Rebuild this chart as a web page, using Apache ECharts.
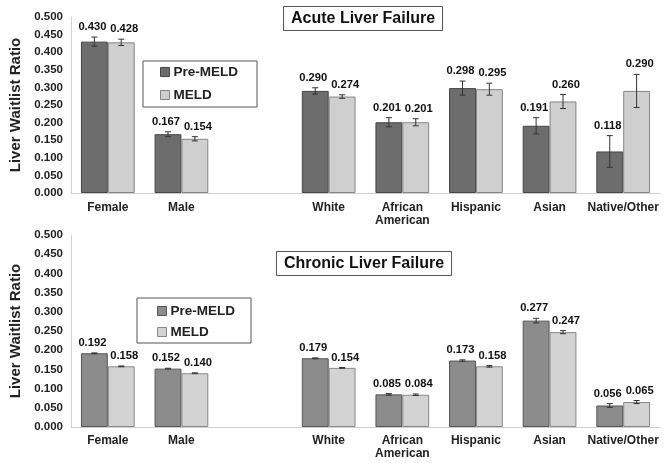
<!DOCTYPE html>
<html>
<head>
<meta charset="utf-8">
<script src="https://cdn.jsdelivr.net/npm/echarts@6/dist/echarts.min.js"></script>
<style>
html,body{margin:0;padding:0;background:#fff;}
#chart{width:669px;height:463px;}
</style>
</head>
<body>
<div id="chart"></div>
<script>
// ---- data ----
var categories = ['Female', 'Male', '', 'White', 'African\nAmerican', 'Hispanic', 'Asian', 'Native/Other'];
var seriesNames = ['Pre-MELD', 'MELD'];
var acutePre      = [0.430, 0.167, null, 0.290, 0.201, 0.298, 0.191, 0.118];
var acutePreErr   = [0.013, 0.007, null, 0.009, 0.013, 0.020, 0.023, 0.045];
var acuteMeld     = [0.428, 0.154, null, 0.274, 0.201, 0.295, 0.260, 0.290];
var acuteMeldErr  = [0.009, 0.006, null, 0.005, 0.010, 0.017, 0.020, 0.047];
var chronicPre     = [0.192, 0.152, null, 0.179, 0.085, 0.173, 0.277, 0.056];
var chronicPreErr  = [0.001, 0.001, null, 0.001, 0.002, 0.002, 0.006, 0.005];
var chronicMeld    = [0.158, 0.140, null, 0.154, 0.084, 0.158, 0.247, 0.065];
var chronicMeldErr = [0.001, 0.001, null, 0.001, 0.002, 0.002, 0.004, 0.004];
var yTicks = { min: 0, max: 0.5, interval: 0.05 };
var titles = ['Acute Liver Failure', 'Chronic Liver Failure'];
var yName = 'Liver Waitlist Ratio';

// ---- styles ----
var FONT = '"Liberation Sans", Arial, sans-serif';
var GAP = 0.27;
var styles = [
  { pre: { color: '#6d6d6d', borderColor: '#454545', borderWidth: 1 },
    meld: { color: '#cfcfcf', borderColor: '#858585', borderWidth: 1 } },
  { pre: { color: '#8c8c8c', borderColor: '#555555', borderWidth: 1 },
    meld: { color: '#d3d3d3', borderColor: '#888888', borderWidth: 1 } }
];

function errData(pre, preErr, meld, meldErr) {
  var out = [];
  for (var i = 0; i < categories.length; i++) {
    if (pre[i] != null) out.push([i, pre[i], preErr[i], 0]);
    if (meld[i] != null) out.push([i, meld[i], meldErr[i], 1]);
  }
  return out;
}

function renderErr(params, api) {
  var cat = api.value(0), val = api.value(1), err = api.value(2), side = api.value(3);
  var c = api.coord([cat, val]);
  var band = api.size([1, 0])[0];
  var bw = band * (1 - GAP) / 2;
  var x = c[0] + (side === 0 ? -bw / 2 : bw / 2);
  var yTop = api.coord([cat, val + err])[1];
  var yBot = api.coord([cat, val - err])[1];
  var cap = 3;
  var ls = { stroke: '#333', lineWidth: 1 };
  var lx = x + (side === 0 ? -2 : 3);
  return {
    type: 'group',
    children: [
      { type: 'line', shape: { x1: x, y1: yTop, x2: x, y2: yBot }, style: ls },
      { type: 'line', shape: { x1: x - cap, y1: yTop, x2: x + cap, y2: yTop }, style: ls },
      { type: 'line', shape: { x1: x - cap, y1: yBot, x2: x + cap, y2: yBot }, style: ls },
      { type: 'text', style: { text: val.toFixed(3), x: lx, y: yTop - 10, align: 'center', verticalAlign: 'middle',
          fontSize: 11.2, fontWeight: 'bold', fontFamily: FONT, fill: '#111' } }
    ]
  };
}

function xAxis(idx, margin) {
  return {
    type: 'category', gridIndex: idx, data: categories,
    axisLine: { lineStyle: { color: '#d0d0d0' } },
    axisTick: { show: false },
    axisLabel: { interval: 0, margin: margin, fontSize: 12, fontWeight: 'bold', fontFamily: FONT, color: '#222', lineHeight: 13 }
  };
}
function yAxis(idx) {
  return {
    type: 'value', gridIndex: idx, min: yTicks.min, max: yTicks.max, interval: yTicks.interval,
    name: yName, nameLocation: 'middle', nameGap: 48,
    nameTextStyle: { fontSize: 15, fontWeight: 'bold', fontFamily: FONT, color: '#222' },
    axisLine: { show: true, lineStyle: { color: '#d0d0d0' } },
    axisTick: { show: false },
    splitLine: { show: false },
    axisLabel: { margin: 8, fontSize: 11.5, fontWeight: 'bold', fontFamily: FONT, color: '#222',
      formatter: function (v) { return v.toFixed(3); } }
  };
}
function legend(idx, left, top, padding, gap) {
  return {
    orient: 'vertical', left: left, top: top, padding: padding, itemGap: gap,
    itemWidth: 9, itemHeight: 9, icon: 'rect',
    backgroundColor: '#fff', borderColor: '#555', borderWidth: 1,
    textStyle: { fontSize: 13.5, fontWeight: 'bold', fontFamily: FONT, color: '#222', lineHeight: 14, padding: [0, 0, 0, -1] },
    data: [
      { name: seriesNames[0], itemStyle: styles[idx].pre },
      { name: seriesNames[1], itemStyle: styles[idx].meld }
    ]
  };
}
function title(idx, text, left, top) {
  return {
    text: text, left: left, top: top, padding: [4, 8, 4, 8],
    borderColor: '#555', borderWidth: 1, backgroundColor: '#fff',
    textStyle: { fontSize: 16, fontWeight: 'bold', fontFamily: FONT, color: '#111', lineHeight: 17 }
  };
}
function bar(idx, name, data, st) {
  return {
    type: 'bar', name: name, xAxisIndex: idx, yAxisIndex: idx, data: data,
    barGap: 0, barCategoryGap: (GAP * 100) + '%', itemStyle: st, emphasis: { disabled: true }
  };
}

var option = {
  animation: false,
  backgroundColor: '#fff',
  title: [title(0, titles[0], 283, 6), title(1, titles[1], 276, 251)],
  legend: [legend(0, 143, 61, [4, 19, 5, 17], 9), legend(1, 137, 298, [6, 16, 4, 20], 7)],
  grid: [
    { left: 66, right: 9, top: 17, height: 176 },
    { left: 66, right: 9, top: 235, height: 192 }
  ],
  xAxis: [xAxis(0, 8), xAxis(1, 7)],
  yAxis: [yAxis(0), yAxis(1)],
  series: [
    bar(0, seriesNames[0], acutePre, styles[0].pre),
    bar(0, seriesNames[1], acuteMeld, styles[0].meld),
    { type: 'custom', xAxisIndex: 0, yAxisIndex: 0, renderItem: renderErr, z: 5,
      data: errData(acutePre, acutePreErr, acuteMeld, acuteMeldErr) },
    bar(1, seriesNames[0], chronicPre, styles[1].pre),
    bar(1, seriesNames[1], chronicMeld, styles[1].meld),
    { type: 'custom', xAxisIndex: 1, yAxisIndex: 1, renderItem: renderErr, z: 5,
      data: errData(chronicPre, chronicPreErr, chronicMeld, chronicMeldErr) }
  ]
};
var chart = echarts.init(document.getElementById('chart'), null, { renderer: 'canvas' });
chart.setOption(option);
</script>
</body>
</html>
